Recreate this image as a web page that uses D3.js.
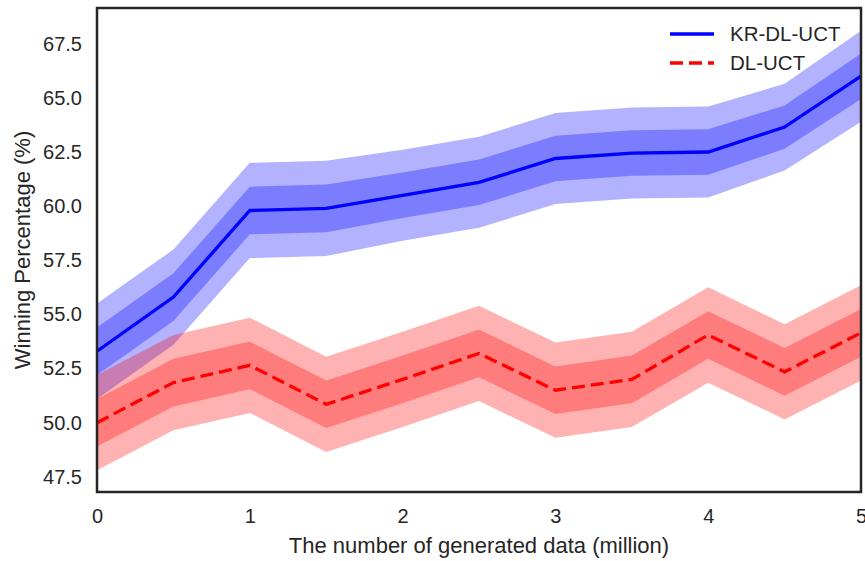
<!DOCTYPE html>
<meta charset="utf-8">
<style>
  body { margin: 0; background: #fff; }
  text { font-family: "Liberation Sans", Arial, sans-serif; fill: #262626; }
</style>
<script src="https://d3js.org/d3.v7.min.js"></script>
<body>
<svg id="chart"></svg>
</body>
<script>
// generated data (million)
const dataSize = [0, 0.5, 1, 1.5, 2, 2.5, 3, 3.5, 4, 4.5, 5];
// KR-DL-UCT mean and std of winning percentage
const krMean = [53.3, 55.8, 59.8, 59.9, 60.5, 61.1, 62.2, 62.45, 62.5, 63.65, 66.0];
const krStd = [1.1, 1.1, 1.1, 1.1, 1.05, 1.05, 1.05, 1.05, 1.05, 1.0, 1.05];
// DL-UCT
const dlMean = [50.0, 51.85, 52.65, 50.85, 52.0, 53.2, 51.5, 52.0, 54.05, 52.35, 54.15];
const dlStd = [1.1, 1.1, 1.1, 1.1, 1.1, 1.1, 1.1, 1.1, 1.1, 1.1, 1.1];

const xTicks = [0, 1, 2, 3, 4, 5];
const yTicks = [47.5, 50, 52.5, 55, 57.5, 60, 62.5, 65, 67.5];

const width = 865, height = 561;
const margin = {top: 8, right: 4, bottom: 69, left: 97};

const svg = d3.select('#chart')
    .attr('width', width)
    .attr('height', height);

const x = d3.scaleLinear().domain([0, 5]).range([margin.left, width - margin.right]);
const y = d3.scaleLinear().domain([46.8, 69.15]).range([height - margin.bottom, margin.top]);

const series = [
  {name: 'KR-DL-UCT', mean: krMean, std: krStd, color: 'blue', dash: null},
  {name: 'DL-UCT', mean: dlMean, std: dlStd, color: 'red', dash: '13,6'}
];

const plot = svg.append('g');

series.forEach(function(s) {
  const rows = dataSize.map(function(d, i) { return {x: d, m: s.mean[i], s: s.std[i]}; });
  // two bands: 2 std and 1 std, stacked alpha
  [2, 1].forEach(function(k) {
    plot.append('path')
        .datum(rows)
        .attr('fill', s.color)
        .attr('fill-opacity', 0.3)
        .attr('d', d3.area()
          .x(function(d) { return x(d.x); })
          .y0(function(d) { return y(d.m - k * d.s); })
          .y1(function(d) { return y(d.m + k * d.s); }));
  });
  plot.append('path')
      .datum(rows)
      .attr('fill', 'none')
      .attr('stroke', s.color)
      .attr('stroke-width', 3.3)
      .attr('stroke-dasharray', s.dash)
      .attr('d', d3.line()
        .x(function(d) { return x(d.x); })
        .y(function(d) { return y(d.m); }));
});

// axes, no tick marks
const xAxis = svg.append('g')
    .attr('transform', `translate(0,${height - margin.bottom})`)
    .call(d3.axisBottom(x).tickValues(xTicks).tickSize(0).tickPadding(17).tickFormat(d3.format('d')));
const yAxis = svg.append('g')
    .attr('transform', `translate(${margin.left},0)`)
    .call(d3.axisLeft(y).tickValues(yTicks).tickSize(0).tickPadding(15).tickFormat(d3.format('.1f')));

[xAxis, yAxis].forEach(function(a) {
  a.select('.domain').remove();
  a.selectAll('text').style('font-size', '20px').attr('fill', '#262626');
});

// frame
svg.append('rect')
    .attr('x', margin.left)
    .attr('y', margin.top)
    .attr('width', width - margin.left - margin.right)
    .attr('height', height - margin.top - margin.bottom)
    .attr('fill', 'none')
    .attr('stroke', '#262626')
    .attr('stroke-width', 2.5);

svg.append('text')
    .attr('x', (margin.left + width - margin.right) / 2)
    .attr('y', 553)
    .attr('text-anchor', 'middle')
    .style('font-size', '22px')
    .text('The number of generated data (million)');

svg.append('text')
    .attr('transform', `translate(30,${(margin.top + height - margin.bottom) / 2}) rotate(-90)`)
    .attr('text-anchor', 'middle')
    .style('font-size', '22px')
    .text('Winning Percentage (%)');

// legend
const legend = svg.append('g')
  .selectAll('g')
    .data(series)
  .enter().append('g')
    .attr('transform', function(d, i) { return `translate(670,${34 + i * 29})`; });

legend.append('line')
    .attr('x1', 0).attr('x2', 44)
    .attr('stroke', function(d) { return d.color; })
    .attr('stroke-width', 3.3)
    .attr('stroke-dasharray', function(d) { return d.dash; });

legend.append('text')
    .attr('x', 60)
    .attr('dy', '0.35em')
    .style('font-size', '20.5px')
    .text(function(d) { return d.name; });
</script>
